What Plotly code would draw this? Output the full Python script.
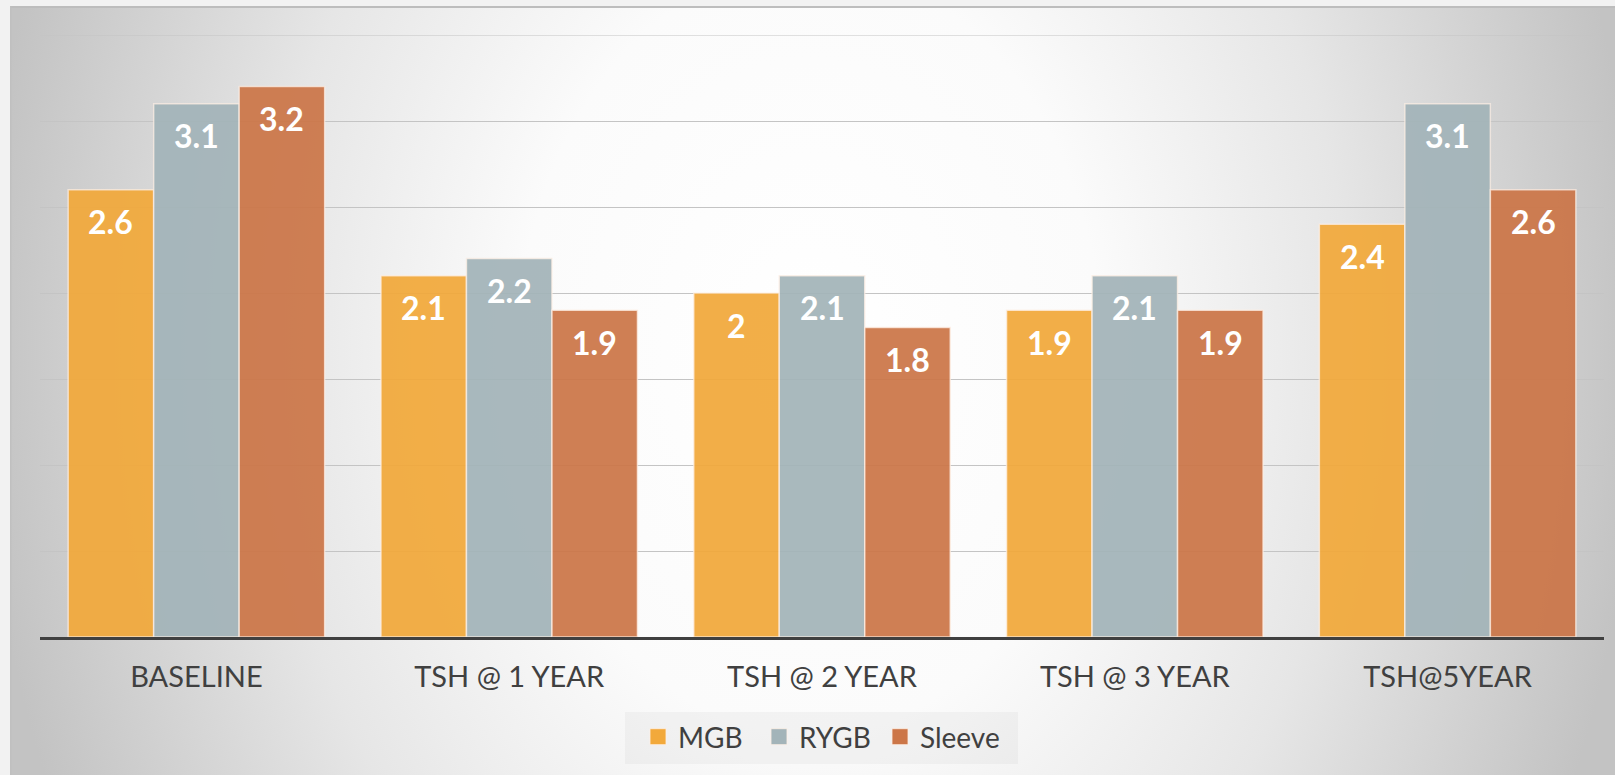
import base64
import plotly.graph_objects as go

categories = ["BASELINE", "TSH @ 1 YEAR", "TSH @ 2 YEAR", "TSH @ 3 YEAR", "TSH@5YEAR"]
series_names = ["MGB", "RYGB", "Sleeve"]
mgb = [2.6, 2.1, 2.0, 1.9, 2.4]
rygb = [3.1, 2.2, 2.1, 2.1, 3.1]
sleeve = [3.2, 1.9, 1.8, 1.9, 2.6]
series_values = [mgb, rygb, sleeve]
colors = ["#F2A93B", "#A3B4B9", "#CC7648"]
y_max = 3.5

W, H = 1615, 775
ML, MR, MT, MB = 40, 11, 35, 138
PW, PH = W - ML - MR, H - MT - MB
BARGAP = 0.18

fig = go.Figure()
for name, vals, col in zip(series_names, series_values, colors):
    fig.add_trace(go.Bar(
        x=categories, y=vals, name=name, showlegend=False,
        marker=dict(color=col, opacity=0.93, line=dict(color="rgba(255,240,230,0.75)", width=1.5)),
        hoverinfo="skip",
    ))
    fig.add_trace(go.Scatter(
        x=[None], y=[None], mode="markers", name=name,
        marker=dict(symbol="square", size=16, color=col, line=dict(color="rgba(255,240,230,0.8)", width=1)),
    ))

# value labels placed inside bar tops
n = len(series_names)
bw = (1 - BARGAP) / n
annotations = []
for j, vals in enumerate(series_values):
    off = (j - (n - 1) / 2) * bw
    for i, v in enumerate(vals):
        annotations.append(dict(
            x=i + off, y=v, xref="x", yref="y", text=f"{v:g}", showarrow=False,
            yanchor="middle", xanchor="center", yshift=-32,
            font=dict(family="Lato", size=32, color="white", weight="bold"),
        ))

svg = (
    "<svg xmlns='http://www.w3.org/2000/svg' width='1605' height='769' viewBox='0 0 1605 769'>"
    "<defs><radialGradient id='g' gradientUnits='userSpaceOnUse' cx='0' cy='0' r='1' "
    "gradientTransform='translate(800 344) scale(830 1100)'>"
    "<stop offset='0' stop-color='#ffffff'/>"
    "<stop offset='0.35' stop-color='#fbfbfb'/>"
    "<stop offset='0.65' stop-color='#e6e6e6'/>"
    "<stop offset='1' stop-color='#c3c3c3'/>"
    "</radialGradient></defs>"
    "<rect width='1605' height='769' fill='url(#g)'/>"
    "<rect x='0' y='0' width='1605' height='2' fill='#bdbdbd'/>"
    "<rect x='0' y='0' width='1.5' height='769' fill='#c0c0c0'/>"
    "</svg>"
)
src = "data:image/svg+xml;base64," + base64.b64encode(svg.encode()).decode()

def px_x(p):
    return (p - ML) / PW

def px_y(p):
    return (H - MB - p) / PH

fig.add_shape(
    type="rect", xref="paper", yref="paper",
    x0=px_x(625), x1=px_x(1018), y0=px_y(764), y1=px_y(712),
    fillcolor="rgba(200,200,200,0.16)", line=dict(width=0), layer="below",
)
# top gridline at the range maximum
fig.add_shape(
    type="line", xref="paper", yref="y", x0=0, x1=1, y0=y_max, y1=y_max,
    line=dict(color="#c4c4c4", width=1.2), layer="below",
)

fig.update_layout(
    width=W, height=H,
    margin=dict(l=ML, r=MR, t=MT, b=MB, pad=0),
    paper_bgcolor="#f2f2f2", plot_bgcolor="rgba(0,0,0,0)",
    barmode="group", bargap=BARGAP, bargroupgap=0,
    font=dict(family="Lato", color="#404040"),
    images=[dict(
        source=src, xref="paper", yref="paper",
        x=(10 - ML) / PW, y=(H - MB - 6) / PH,
        sizex=1605 / PW, sizey=769 / PH,
        xanchor="left", yanchor="top", sizing="stretch", layer="below",
    )],
    xaxis=dict(
        showline=True, linecolor="#404040", linewidth=3, ticks="",
        tickfont=dict(family="Lato", size=29, color="#404040"),
        ticklabelstandoff=12, showgrid=False,
    ),
    yaxis=dict(
        range=[0, y_max], dtick=0.5, showticklabels=False, showgrid=True,
        gridcolor="#c4c4c4", gridwidth=1.2, zeroline=False, showline=False,
    ),
    legend=dict(
        orientation="h", x=px_x(638), xanchor="left", y=px_y(712), yanchor="top",
        bgcolor="rgba(0,0,0,0)", font=dict(family="Lato", size=28, color="#404040"),
        entrywidth=76, entrywidthmode="pixels",
        itemclick=False, itemdoubleclick=False,
    ),
    annotations=annotations,
    showlegend=True,
)

fig.write_html(
    "out.html",
    config={"displayModeBar": False},
    post_script="document.body.style.margin='0';",
)
